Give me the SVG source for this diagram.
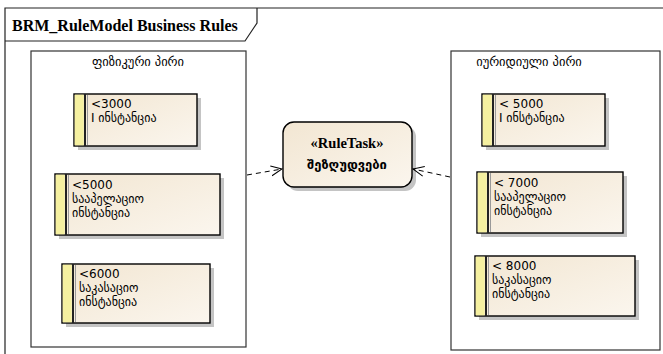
<svg xmlns="http://www.w3.org/2000/svg" width="663" height="354" viewBox="0 0 663 354">
<defs>
<linearGradient id="g" x1="0" y1="0" x2="1" y2="1">
<stop offset="0" stop-color="#F2E6D2"/>
<stop offset="1" stop-color="#FBF6EE"/>
</linearGradient>
<marker id="arr" viewBox="0 0 12 12" refX="11" refY="6" markerWidth="12" markerHeight="12" markerUnits="userSpaceOnUse" orient="auto">
<path d="M0,1 L11,6 L0,11" fill="none" stroke="#000" stroke-width="1"/>
</marker>
<style>
.frame{fill:#fff;stroke:#222;stroke-width:1.2}
.cont{fill:#fff;stroke:#333;stroke-width:1.2}
.sh{fill:#c4c4c4}
.box{fill:url(#g);stroke:#000;stroke-width:1.4}
.strip{fill:#F5F0A0;stroke:none}
.bar{stroke:#222;stroke-width:2}
.bar2{stroke:#999;stroke-width:1}
.t{font-family:"DejaVu Sans",sans-serif;font-size:12px;fill:#000}
.ct{font-family:"DejaVu Sans",sans-serif;font-size:12.5px;fill:#000}
.tk{font-family:"DejaVu Sans",sans-serif;font-size:13px;font-weight:bold;fill:#000}
.ttl{font-family:"Liberation Serif",serif;font-size:16px;font-weight:bold;fill:#000}
.st{font-family:"Liberation Serif",serif;font-size:14.5px;font-weight:bold;fill:#000}
.con{fill:none;stroke:#000;stroke-width:1;stroke-dasharray:5,4}
</style>
</defs>
<rect width="663" height="354" fill="#fff"/>
<g id="frame">
<path class="frame" d="M5,8 L670,8 L670,360 L5,360 Z"/>
<path fill="none" stroke="#222" stroke-width="1.2" d="M5,41 L245,41 L257,23 L257,8"/>
<text class="ttl" x="12" y="31">BRM_RuleModel Business Rules</text>
</g>
<g id="physical">
<rect class="cont" x="31" y="51" width="215" height="296"/>
<text class="ct" x="138" y="66" text-anchor="middle">ფიზიკური პირი</text>
</g>
<g id="legal">
<rect class="cont" x="451" y="51" width="209" height="299"/>
<text class="ct" x="529" y="66" text-anchor="middle">იურიდიული პირი</text>
</g>
<g id="L1">
<rect class="sh" x="78" y="98" width="123" height="52"/>
<rect class="box" x="74" y="94" width="123" height="52"/>
<rect class="strip" x="74.7" y="94.7" width="9" height="50.6"/>
<line class="bar" x1="85" y1="94" x2="85" y2="146"/>
<line class="bar2" x1="87.5" y1="95" x2="87.5" y2="145"/>
<text class="t" x="91" y="108">&lt;3000</text>
<text class="t" x="91" y="122">I ინსტანცია</text>
</g>
<g id="L2">
<rect class="sh" x="59" y="178" width="165" height="61"/>
<rect class="box" x="55" y="174" width="165" height="61"/>
<rect class="strip" x="55.7" y="174.7" width="9" height="59.6"/>
<line class="bar" x1="66" y1="174" x2="66" y2="235"/>
<line class="bar2" x1="68.5" y1="175" x2="68.5" y2="234"/>
<text class="t" x="72" y="189">&lt;5000</text>
<text class="t" x="72" y="203">სააპელაციო</text>
<text class="t" x="72" y="217">ინსტანცია</text>
</g>
<g id="L3">
<rect class="sh" x="66" y="268" width="148" height="59"/>
<rect class="box" x="62" y="264" width="148" height="59"/>
<rect class="strip" x="62.7" y="264.7" width="9" height="57.6"/>
<line class="bar" x1="73" y1="264" x2="73" y2="323"/>
<line class="bar2" x1="75.5" y1="265" x2="75.5" y2="322"/>
<text class="t" x="79" y="278">&lt;6000</text>
<text class="t" x="79" y="292">საკასაციო</text>
<text class="t" x="79" y="306">ინსტანცია</text>
</g>
<g id="R1">
<rect class="sh" x="486" y="98" width="123" height="52"/>
<rect class="box" x="482" y="94" width="123" height="52"/>
<rect class="strip" x="482.7" y="94.7" width="9" height="50.6"/>
<line class="bar" x1="493" y1="94" x2="493" y2="146"/>
<line class="bar2" x1="495.5" y1="95" x2="495.5" y2="145"/>
<text class="t" x="499" y="108">&lt; 5000</text>
<text class="t" x="499" y="122">I ინსტანცია</text>
</g>
<g id="R2">
<rect class="sh" x="481" y="176" width="146" height="61"/>
<rect class="box" x="477" y="172" width="146" height="61"/>
<rect class="strip" x="477.7" y="172.7" width="9" height="59.6"/>
<line class="bar" x1="488" y1="172" x2="488" y2="233"/>
<line class="bar2" x1="490.5" y1="173" x2="490.5" y2="232"/>
<text class="t" x="494" y="187">&lt; 7000</text>
<text class="t" x="494" y="201">სააპელაციო</text>
<text class="t" x="494" y="215">ინსტანცია</text>
</g>
<g id="R3">
<rect class="sh" x="479" y="260" width="160" height="60"/>
<rect class="box" x="475" y="256" width="160" height="60"/>
<rect class="strip" x="475.7" y="256.7" width="9" height="58.6"/>
<line class="bar" x1="486" y1="256" x2="486" y2="316"/>
<line class="bar2" x1="488.5" y1="257" x2="488.5" y2="315"/>
<text class="t" x="492" y="270">&lt; 8000</text>
<text class="t" x="492" y="284">საკასაციო</text>
<text class="t" x="492" y="298">ინსტანცია</text>
</g>
<g id="ruletask">
<rect class="sh" x="287" y="126" width="129" height="65" rx="11"/>
<rect class="box" x="283" y="122" width="129" height="65" rx="11"/>
<text class="st" x="347" y="148" text-anchor="middle">«RuleTask»</text>
<text class="tk" x="347" y="169" text-anchor="middle">შეზღუდვები</text>
</g>
<g id="connectors">
<line class="con" x1="247" y1="175" x2="282" y2="169" marker-end="url(#arr)"/>
<line class="con" x1="450" y1="177" x2="413" y2="169" marker-end="url(#arr)"/>
</g>
</svg>
